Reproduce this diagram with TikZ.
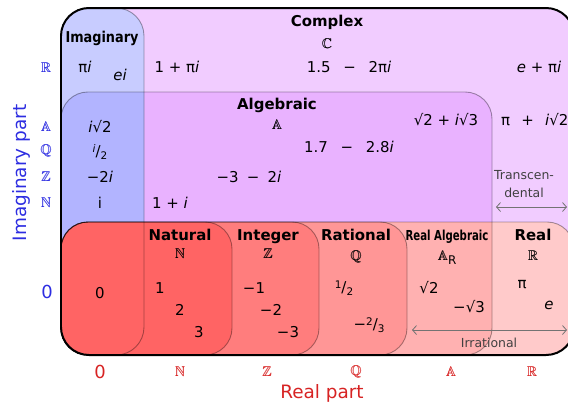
\documentclass[tikz,border=0pt]{standalone}
\usepackage{amssymb}
\usepackage{fontspec}
\setmainfont{DejaVu Sans}
\usetikzlibrary{arrows.meta, positioning}

\definecolor{ComplexFill}{RGB}{241,204,255}
\definecolor{AlgFill}{RGB}{233,178,255}
\definecolor{ImagFill}{RGB}{200,204,255}
\definecolor{ImagAlgFill}{RGB}{178,180,255}
\definecolor{NatFill}{RGB}{255,100,100}
\definecolor{IntFill}{RGB}{255,125,125}
\definecolor{RatFill}{RGB}{255,150,150}
\definecolor{RAlgFill}{RGB}{255,177,177}
\definecolor{RealFill}{RGB}{255,202,202}
\definecolor{AxisBlue}{RGB}{45,45,225}
\definecolor{AxisRed}{RGB}{215,35,35}

\newcommand{\fsz}[1]{\fontsize{#1}{#1}\selectfont}
\newcommand{\imu}{\textit{i}}
\newcommand{\frc}[2]{\raisebox{0.5ex}{\fsz{10.5}#1}/\raisebox{-0.4ex}{\fsz{10.5}#2}}
\newcommand{\bbset}[1]{\rlap{$\mathbb{#1}$}\kern0.4pt$\mathbb{#1}$}
\newcommand{\wsp}{\hspace{0.85em}}

\begin{document}
\begin{tikzpicture}[x=1bp, y=-1bp,
	ttl/.style={font=\fsz{15}\bfseries, inner sep=0pt, text height=11pt, text depth=3pt},
	sym/.style={font=\fsz{14}, inner sep=0pt, text height=10pt, text depth=0pt},
	num/.style={font=\fsz{15}, inner sep=0pt},
	note/.style={font=\fsz{12.5}, text=black!75, inner sep=0pt, align=center},
	yax/.style={font=\fsz{14}, text=AxisBlue, inner sep=0pt},
	xax/.style={font=\fsz{14}, text=AxisRed, inner sep=0pt},
	rgn/.style={draw=black, draw opacity=0.35, line width=0.9pt},
	frm/.style={draw=black, line width=2pt},
	arr/.style={<->, >={Straight Barb[length=4pt,width=9pt]}, draw=black!55, line width=0.8pt}]
	\useasboundingbox (0,0) rectangle (568,407);
	\begin{scope}
		\clip (0,0) rectangle (568,407);
		% complex plane, algebraic and imaginary parts
		\fill[ComplexFill, rounded corners=28] (61,8) rectangle (574,355);
		\fill[AlgFill, rounded corners=27] (61,92) rectangle (492,355);
		\fill[ImagFill, rounded corners=28] (61,8) rectangle (144,355);
		\begin{scope}
			\clip[rounded corners=27] (61,92) rectangle (492,355);
			\fill[ImagAlgFill, rounded corners=28] (61,8) rectangle (144,355);
		\end{scope}
		% real line
		\fill[RealFill, rounded corners=27] (61,222) rectangle (574,355);
		\begin{scope}
			\clip[rounded corners=27] (61,222) rectangle (574,355);
			\fill[RAlgFill, rounded corners=27] (61,92) rectangle (492,355);
		\end{scope}
		\fill[RatFill, rounded corners=27] (61,222) rectangle (407,355);
		\fill[IntFill, rounded corners=27] (61,222) rectangle (319,355);
		\fill[NatFill, rounded corners=27] (61,222) rectangle (232,355);
		% outlines
		\draw[rgn, rounded corners=27] (61,92) rectangle (492,355);
		\draw[rgn, rounded corners=28] (61,8) rectangle (144,355);
		\draw[rgn, rounded corners=27] (61,222) rectangle (574,355);
		\draw[rgn, rounded corners=27] (61,222) rectangle (407,355);
		\draw[rgn, rounded corners=27] (61,222) rectangle (319,355);
		\draw[rgn, rounded corners=27] (61,222) rectangle (232,355);
		\draw[frm, rounded corners=28] (61,8) rectangle (574,355);
	\end{scope}

	% set names
	\node[ttl] (cplx) at (327,22.5) {Complex};
	\node[sym, below=8.5pt of cplx] (cplxS) {\bbset{C}};
	\node[ttl] (imag) at (102,38.5) {\scalebox{0.86}[1]{Imaginary}};
	\node[ttl] (alg) at (277,105.5) {Algebraic};
	\node[sym, below=6.5pt of alg] (algS) {\bbset{A}};
	\node[ttl] (nat) at (180,236.5) {Natural};
	\node[sym, below=5pt of nat] (natS) {\bbset{N}};
	\node[ttl] (intg) at (268,236.5) {Integer};
	\node[sym, below=5pt of intg] (intgS) {\bbset{Z}};
	\node[ttl] (rat) at (356,236.5) {Rational};
	\node[sym, below=6.5pt of rat] (ratS) {\bbset{Q}};
	\node[ttl] (ralg) at (447,237) {\scalebox{0.68}[0.92]{Real Algebraic}};
	\node[sym, below=6.5pt of ralg] (ralgS) {\bbset{A}\raisebox{-0.5ex}{\fsz{12}R}};
	\node[ttl] (real) at (533,236.5) {Real};
	\node[sym, below=6.5pt of real] (realS) {\bbset{R}};

	% complex numbers
	\node[num] (piI) at (85,67) {π\imu};
	\node[num] (eI) at (120,75) {\textit{ei}};
	\node[num] (oPiI) at (177,67) {1 + π\imu};
	\node[num] (fPiI) at (349,67) {1.5\wsp−\wsp2π\imu};
	\node[num] (ePiI) at (539,67) {\textit{e} + π\imu};
	\node[num] (iRt) at (100,127) {\imu√2};
	\node[num] (iHf) at (100,152) {\frc{\imu}{2}};
	\node[num] (mTwoI) at (100,177) {−2\imu};
	\node[num] (iNat) at (100,203) {i};
	\node[num] (oI) at (170,203) {1 + \imu};
	\node[num] (mThrI) at (249,177) {−3\hspace{0.55em}−\hspace{0.55em}2\imu};
	\node[num] (rtRt) at (446,120) {√2 + \imu√3};
	\node[num, anchor=west] (piRt) at (501,120) {π\hspace{0.75em}+\hspace{0.75em}\imu√2};
	\node[num] (sevI) at (349,147) {1.7\wsp−\wsp2.8\imu};
	\node[note] (trans) at (524,184) {Transcen-\\[5pt]dental};

	% real numbers
	\node[num] (zero) at (100,293) {0};
	\node[num] (one) at (160,288) {1};
	\node[num] (two) at (180,310) {2};
	\node[num] (three) at (199,332) {3};
	\node[num] (mOne) at (254,288) {−1};
	\node[num] (mTwo) at (271,310) {−2};
	\node[num] (mThree) at (288,332) {−3};
	\node[num] (half) at (344,288) {\frc{1}{2}};
	\node[num] (mTwoThd) at (369,325) {−\frc{2}{3}};
	\node[num] (rtTwo) at (429,288) {√2};
	\node[num] (mRtThr) at (469,307) {−√3};
	\node[num] (piR) at (522,285) {π};
	\node[num] (eR) at (549,305) {\textit{e}};
	\node[note] (irr) at (489,343) {Irrational};

	% arrows
	\coordinate (transL) at (496,207);
	\coordinate (transR) at (567,207);
	\draw[arr] (transL) -- (transR);
	\coordinate (irrL) at (412,330);
	\coordinate (irrR) at (567,330);
	\draw[arr] (irrL) -- (irrR);

	% imaginary axis
	\node[yax, font=\fsz{18.5}, rotate=90] (imPart) at (21,173) {Imaginary part};
	\node[yax] (yR) at (46,68) {\bbset{R}};
	\node[yax] (yA) at (46,127) {\bbset{A}};
	\node[yax] (yQ) at (46,151) {\bbset{Q}};
	\node[yax] (yZ) at (46,177) {\bbset{Z}};
	\node[yax] (yN) at (46,203) {\bbset{N}};
	\node[yax, font=\fsz{18}] (yZero) at (47,292) {0};

	% real axis
	\node[xax, font=\fsz{18}] (xZero) at (100,372) {0};
	\node[xax] (xN) at (180,372) {\bbset{N}};
	\node[xax] (xZ) at (267,372) {\bbset{Z}};
	\node[xax] (xQ) at (356,372) {\bbset{Q}};
	\node[xax] (xA) at (451,372) {\bbset{A}};
	\node[xax] (xR) at (532,372) {\bbset{R}};
	\node[xax, font=\fsz{18.5}] (rePart) at (322,393) {Real part};
\end{tikzpicture}
\end{document}
